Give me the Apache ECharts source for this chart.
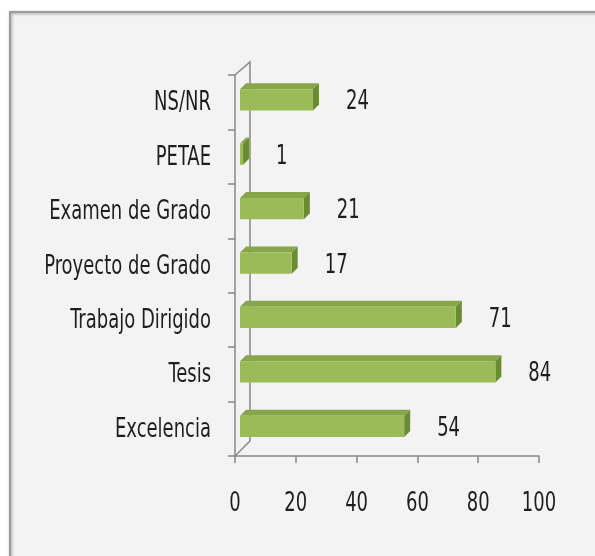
<!DOCTYPE html>
<html>
<head>
<meta charset="utf-8">
<script src="https://cdn.jsdelivr.net/npm/echarts@6/dist/echarts.min.js"></script>
<style>
  html, body { margin: 0; padding: 0; background: #fff; }
  #chart { width: 595px; height: 556px; }
</style>
</head>
<body>
<div id="chart"></div>
<script>
// data, bottom to top as in the chart
const categories = ['Excelencia', 'Tesis', 'Trabajo Dirigido', 'Proyecto de Grado', 'Examen de Grado', 'PETAE', 'NS/NR'];
const values = [54, 84, 71, 17, 21, 1, 24];
const xTicks = [0, 20, 40, 60, 80, 100];

const font = '20px "DejaVu Sans Condensed", "Liberation Sans Narrow", sans-serif';
const textColor = '#1e1e1e';
const stretch = 1.35; // source text is tall and narrow
const axisColor = '#888888';
const frontColor = '#9bbb59', topColor = '#87a64a', sideColor = '#6c8a35';

const chart = echarts.init(document.getElementById('chart'));

function label(text, x, y, align) {
  return {
    type: 'text', x: x, y: y, scaleY: stretch,
    style: { text: text, fill: textColor, font: font, align: align, verticalAlign: 'middle' }
  };
}

// 3d bar: front face + top + right side, drawn from the axis coords
function renderBar(params, api) {
  const v = api.value(0);
  const c = api.value(1);
  const end = api.coord([v, c]);
  const start = api.coord([0, c]);
  const band = api.size([0, 1])[1];
  const ox = 5, dx = 6, dy = -6;
  const x0 = start[0] + ox, x1 = end[0] + ox;
  const y0 = end[1] - band * 0.24, y1 = end[1] + band * 0.15;
  return {
    type: 'group',
    children: [
      { type: 'polygon', shape: { points: [[x0, y0], [x0 + dx, y0 + dy], [x1 + dx, y0 + dy], [x1, y0]] }, style: { fill: topColor } },
      { type: 'polygon', shape: { points: [[x1, y0], [x1 + dx, y0 + dy], [x1 + dx, y1 + dy], [x1, y1]] }, style: { fill: sideColor } },
      { type: 'rect', shape: { x: x0, y: y0, width: Math.max(x1 - x0, 0.5), height: y1 - y0 }, style: { fill: frontColor } },
      label(String(v), end[0] + 38, end[1], 'left')
    ]
  };
}

// category names left of the axis
function renderCategory(params, api) {
  const p = api.coord([0, api.value(1)]);
  return label(categories[api.value(1)], p[0] - 24, p[1] + 1, 'right');
}

// value tick labels under the axis
function renderTick(params, api) {
  const cs = params.coordSys;
  const p = api.coord([api.value(0), 0]);
  return label(String(api.value(0)), p[0], cs.y + cs.height + 48, 'center');
}

// back wall edges of the 3d plot area
function renderWalls(params, api) {
  const cs = params.coordSys;
  const l = cs.x, t = cs.y, b = cs.y + cs.height;
  return {
    type: 'polyline',
    shape: { points: [[l, t], [l + 15, t - 13], [l + 15, b - 15], [l, b]] },
    style: { stroke: axisColor, lineWidth: 1.5, fill: null }
  };
}

const option = {
  backgroundColor: '#ffffff',
  animation: false,
  graphic: [{
    type: 'rect',
    z: -100,
    shape: { x: 10, y: 12, width: 620, height: 580 },
    style: { fill: '#f3f3f3', stroke: '#9c9c9c', lineWidth: 2, shadowBlur: 3, shadowColor: 'rgba(0,0,0,0.35)', shadowOffsetX: 1, shadowOffsetY: 1 }
  }],
  grid: { left: 235, right: 56, top: 75, bottom: 100 },
  xAxis: {
    type: 'value',
    min: xTicks[0],
    max: xTicks[xTicks.length - 1],
    interval: xTicks[1] - xTicks[0],
    axisLine: { show: true, lineStyle: { color: axisColor, width: 1.5 } },
    axisTick: { show: true, length: 7, lineStyle: { color: axisColor, width: 1.5 } },
    axisLabel: { show: false },
    splitLine: { show: false }
  },
  yAxis: {
    type: 'category',
    data: categories,
    axisLine: { show: true, lineStyle: { color: axisColor, width: 1.5 } },
    axisTick: { show: true, length: 7, lineStyle: { color: axisColor, width: 1.5 } },
    axisLabel: { show: false }
  },
  series: [
    {
      type: 'custom',
      renderItem: renderWalls,
      data: [[0, 0]],
      encode: { x: 0, y: 1 },
      z: 1,
      silent: true
    },
    {
      type: 'custom',
      renderItem: renderBar,
      data: values.map((v, i) => [v, i]),
      encode: { x: 0, y: 1 },
      z: 2
    },
    {
      type: 'custom',
      renderItem: renderCategory,
      data: categories.map((c, i) => [0, i]),
      encode: { x: 0, y: 1 },
      clip: false,
      silent: true
    },
    {
      type: 'custom',
      renderItem: renderTick,
      data: xTicks.map(t => [t, 0]),
      encode: { x: 0, y: 1 },
      clip: false,
      silent: true
    }
  ]
};

chart.setOption(option);
</script>
</body>
</html>
